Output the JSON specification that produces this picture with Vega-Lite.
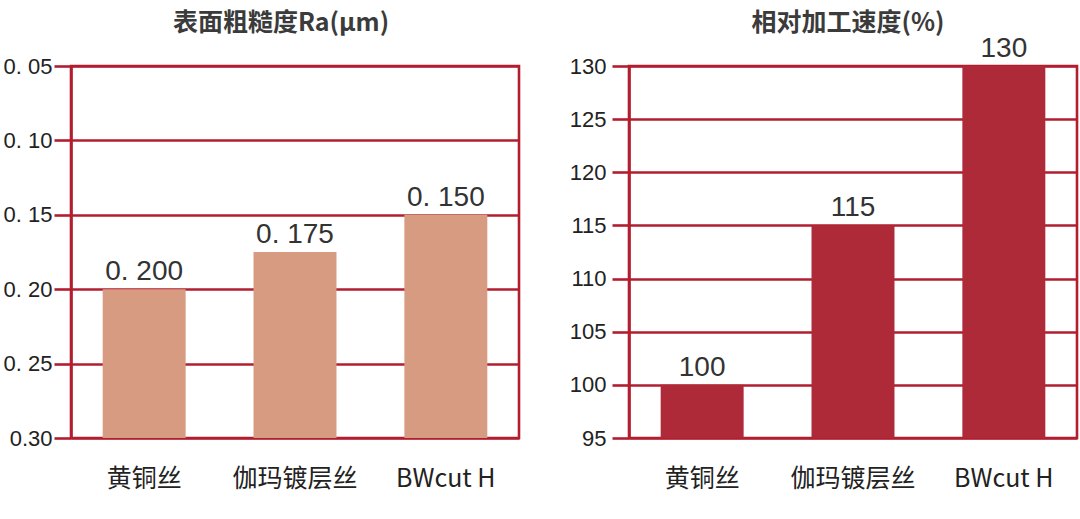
{
  "$schema": "https://vega.github.io/schema/vega-lite/v6.json",
  "padding": {"left": 0, "top": 9, "right": 0, "bottom": 0},
  "spacing": 46,
  "datasets": {
    "ra": [
      {"wire": "黄铜丝", "Ra": 0.2},
      {"wire": "伽玛镀层丝", "Ra": 0.175},
      {"wire": "BWcut H", "Ra": 0.15}
    ],
    "speed": [
      {"wire": "黄铜丝", "speed": 100},
      {"wire": "伽玛镀层丝", "speed": 115},
      {"wire": "BWcut H", "speed": 130}
    ]
  },
  "config": {
    "view": {"stroke": "#B21E2F", "strokeWidth": 2.6},
    "title": {"font": "Noto Sans CJK SC", "fontSize": 25, "fontWeight": "bold", "color": "#3b3b3b"},
    "axisX": {
      "labelAngle": 0, "domain": false, "ticks": false, "grid": false, "labelPadding": 28,
      "labelFont": "Noto Sans CJK SC", "labelFontSize": 25, "labelColor": "#222222", "title": null
    },
    "axisY": {
      "grid": true, "gridColor": "#B21E2F", "gridWidth": 2.6, "gridOpacity": 1,
      "ticks": true, "tickColor": "#B21E2F", "tickWidth": 2.6, "tickSize": 17,
      "domain": true, "domainColor": "#B21E2F", "domainWidth": 2.6,
      "labelFont": "Liberation Sans", "labelFontSize": 22, "labelColor": "#222222", "labelPadding": 2,
      "title": null
    }
  },
  "hconcat": [
    {
      "width": 448,
      "height": 372,
      "data": {"name": "ra"},
      "title": {"text": "表面粗糙度Ra(μm)", "offset": 19, "dx": -14},
      "encoding": {
        "x": {"field": "wire", "type": "nominal", "sort": null, "scale": {"paddingInner": 0.45, "paddingOuter": 0.21}}
      },
      "layer": [
        {
          "mark": {"type": "bar", "color": "#D79B82"},
          "encoding": {
            "y": {
              "field": "Ra", "type": "quantitative",
              "scale": {"domain": [0.05, 0.3], "reverse": true, "nice": false, "zero": false},
              "axis": {
                "values": [0.05, 0.1, 0.15, 0.2, 0.25, 0.3],
                "labelExpr": "datum.value > 0.29 ? '0.30' : replace(format(datum.value, '.2f'), '.', '. ')",
                "minExtent": 69, "maxExtent": 69
              }
            },
            "y2": {"datum": 0.3}
          }
        },
        {
          "mark": {
            "type": "text", "baseline": "alphabetic", "dy": -9, "fontSize": 28,
            "font": "Liberation Sans", "color": "#333333",
            "text": {"expr": "replace(format(datum.Ra, '.3f'), '.', '. ')"}
          },
          "encoding": {
            "y": {"field": "Ra", "type": "quantitative"}
          }
        }
      ]
    },
    {
      "width": 448,
      "height": 372,
      "data": {"name": "speed"},
      "title": {"text": "相对加工速度(%)", "offset": -1, "dx": -5},
      "encoding": {
        "x": {"field": "wire", "type": "nominal", "sort": null, "scale": {"paddingInner": 0.45, "paddingOuter": 0.21}}
      },
      "layer": [
        {
          "mark": {"type": "bar", "color": "#AE2A38"},
          "encoding": {
            "y": {
              "field": "speed", "type": "quantitative",
              "scale": {"domain": [95, 130], "nice": false, "zero": false},
              "axis": {
                "values": [95, 100, 105, 110, 115, 120, 125, 130],
                "labelPadding": 6,
                "minExtent": 60, "maxExtent": 60
              }
            },
            "y2": {"datum": 95}
          }
        },
        {
          "mark": {
            "type": "text", "baseline": "alphabetic", "dy": -9, "fontSize": 28,
            "font": "Liberation Sans", "color": "#333333"
          },
          "encoding": {
            "y": {"field": "speed", "type": "quantitative"},
            "text": {"field": "speed", "type": "quantitative"}
          }
        }
      ]
    }
  ]
}
